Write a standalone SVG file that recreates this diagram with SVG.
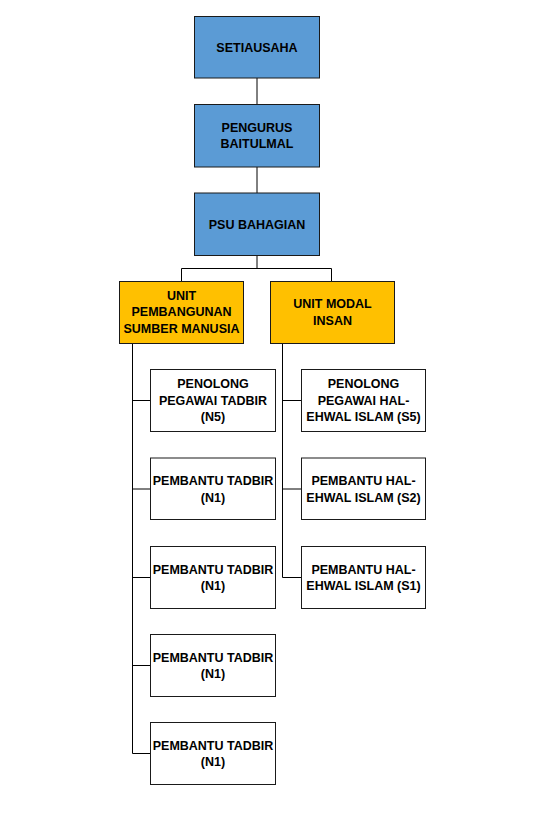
<svg xmlns="http://www.w3.org/2000/svg" width="534" height="814" viewBox="0 0 534 814">
<style>
.n{stroke:#1a1a1a;stroke-width:1}
.b{fill:#5b9bd5}
.o{fill:#ffc000}
.w{fill:#ffffff}
text{font-family:"Liberation Sans",Arial,sans-serif;font-weight:bold;font-size:12.5px;fill:#000;text-anchor:middle}
#connectors path{fill:none;stroke:#000;stroke-width:1}
</style>
<rect x="0" y="0" width="534" height="814" fill="#fff"/>
<g id="connectors">
<path d="M257 78V104.5M257 167V193M257 255.5V268.5M181.5 281.5V268.5H331.5V281.5"/>
<path d="M132.5 343.5V753.5M132.5 400.5H150.5M132.5 489H150.5M132.5 577.5H150.5M132.5 665.5H150.5M132.5 753.5H150.5"/>
<path d="M282.5 343.5V577.5M282.5 400.5H301.5M282.5 489H301.5M282.5 577.5H301.5"/>
</g>
<g id="setiausaha"><rect class="n b" x="194.5" y="16.5" width="125" height="61.5"/><text x="257" y="51.5">SETIAUSAHA</text></g>
<g id="pengurus"><rect class="n b" x="194.5" y="104.5" width="125" height="62.5"/><text x="257" y="131.5">PENGURUS</text><text x="257" y="148">BAITULMAL</text></g>
<g id="psu"><rect class="n b" x="194.5" y="193" width="125" height="62.5"/><text x="257" y="228.5">PSU BAHAGIAN</text></g>
<g id="unit-psm"><rect class="n o" x="119.5" y="281.5" width="124" height="62"/><text x="181.5" y="299.5">UNIT</text><text x="181.5" y="316">PEMBANGUNAN</text><text x="181.5" y="332.5">SUMBER MANUSIA</text></g>
<g id="unit-modal"><rect class="n o" x="270.5" y="281.5" width="124" height="62"/><text x="332.5" y="308">UNIT MODAL</text><text x="332.5" y="324.5">INSAN</text></g>
<g id="l1"><rect class="n w" x="150.5" y="369.5" width="125" height="62"/><text x="213" y="388">PENOLONG</text><text x="213" y="404.7">PEGAWAI TADBIR</text><text x="213" y="421.4">(N5)</text></g>
<g id="l2"><rect class="n w" x="150.5" y="458" width="125" height="61.5"/><text x="213" y="485">PEMBANTU TADBIR</text><text x="213" y="501.6">(N1)</text></g>
<g id="l3"><rect class="n w" x="150.5" y="546.5" width="125" height="62"/><text x="213" y="573.5">PEMBANTU TADBIR</text><text x="213" y="590.1">(N1)</text></g>
<g id="l4"><rect class="n w" x="150.5" y="634.5" width="125" height="62"/><text x="213" y="661.5">PEMBANTU TADBIR</text><text x="213" y="678.1">(N1)</text></g>
<g id="l5"><rect class="n w" x="150.5" y="722.5" width="125" height="62"/><text x="213" y="749.5">PEMBANTU TADBIR</text><text x="213" y="766.1">(N1)</text></g>
<g id="r1"><rect class="n w" x="301.5" y="369.5" width="124" height="62"/><text x="363.5" y="388">PENOLONG</text><text x="363.5" y="404.7">PEGAWAI HAL-</text><text x="363.5" y="421.4">EHWAL ISLAM (S5)</text></g>
<g id="r2"><rect class="n w" x="301.5" y="458" width="124" height="61.5"/><text x="363.5" y="485">PEMBANTU HAL-</text><text x="363.5" y="501.6">EHWAL ISLAM (S2)</text></g>
<g id="r3"><rect class="n w" x="301.5" y="546.5" width="124" height="62"/><text x="363.5" y="573.5">PEMBANTU HAL-</text><text x="363.5" y="590.1">EHWAL ISLAM (S1)</text></g>
</svg>
